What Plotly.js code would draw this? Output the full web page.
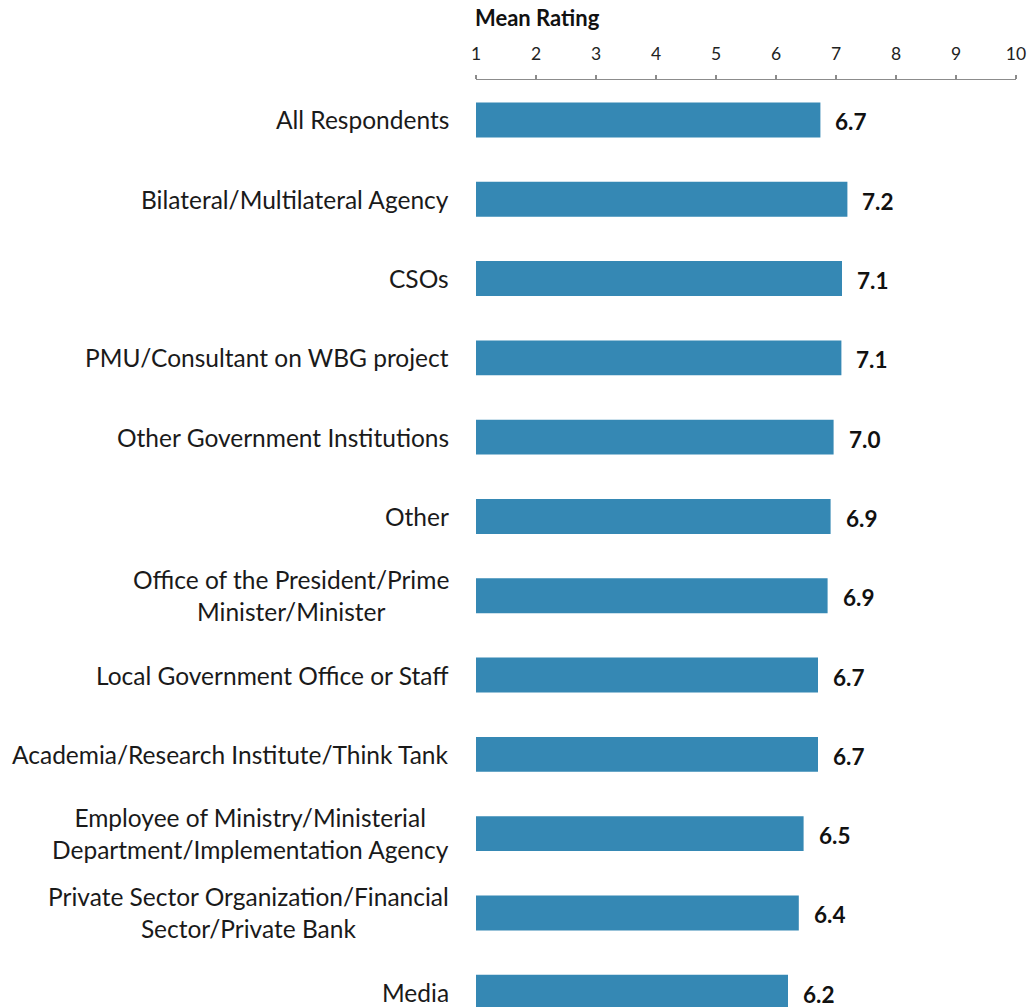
<!DOCTYPE html>
<html>
<head>
<meta charset="utf-8">
<script src="https://cdn.plot.ly/plotly-3.0.1.min.js"></script>
<style>
  html, body { margin: 0; padding: 0; background: #ffffff; }
  #chart { width: 1031px; height: 1007px; }
</style>
</head>
<body>
<div id="chart"></div>
<script>
const categories = [
  "All Respondents",
  "Bilateral/Multilateral Agency",
  "CSOs",
  "PMU/Consultant on WBG project",
  "Other Government Institutions",
  "Other",
  "Office of the President/Prime<br>Minister/Minister",
  "Local Government Office or Staff",
  "Academia/Research Institute/Think Tank",
  "Employee of Ministry/Ministerial<br>Department/Implementation Agency",
  "Private Sector Organization/Financial<br>Sector/Private Bank",
  "Media"
];
const meanRatings = [6.74, 7.19, 7.10, 7.09, 6.96, 6.91, 6.86, 6.70, 6.70, 6.46, 6.38, 6.20];
const tickValues = [1, 2, 3, 4, 5, 6, 7, 8, 9, 10];

const FONT = "Lato, 'Open Sans', sans-serif";

const trace = {
  type: "bar",
  orientation: "h",
  y: categories,
  x: meanRatings,
  width: 0.44,
  marker: { color: "#3588b4", line: { width: 0 } },
  hoverinfo: "skip"
};

const annotations = [];
categories.forEach(function (c, i) {
  annotations.push({
    xref: "paper", yref: "y",
    x: 0, y: c,
    xanchor: "right", yanchor: "middle",
    xshift: -25,
    align: "center",
    showarrow: false,
    text: c,
    font: { family: FONT, size: 24.5, color: "#1a1a1a" }
  });
  annotations.push({
    xref: "x", yref: "y",
    x: meanRatings[i], y: c,
    xanchor: "left", yanchor: "middle",
    xshift: 13, yshift: -2,
    showarrow: false,
    text: "<b>" + meanRatings[i].toFixed(1) + "</b>",
    font: { family: FONT, size: 22.5, color: "#111111" }
  });
});

const layout = {
  width: 1031,
  height: 1007,
  margin: { l: 476, r: 15, t: 80, b: 0, pad: 0 },
  paper_bgcolor: "#ffffff",
  plot_bgcolor: "#ffffff",
  showlegend: false,
  hovermode: false,
  title: {
    text: "<b>Mean Rating</b>",
    x: 475 / 1031, xanchor: "left", xref: "container",
    y: 1 - 18.5 / 1007, yanchor: "middle", yref: "container",
    font: { family: FONT, size: 22, color: "#111111" }
  },
  xaxis: {
    side: "top",
    range: [1, 10],
    tickmode: "array",
    tickvals: tickValues,
    ticktext: tickValues.map(String),
    ticks: "outside",
    ticklen: 4,
    tickwidth: 1.5,
    tickcolor: "#8c8c8c",
    showline: true,
    linecolor: "#8c8c8c",
    linewidth: 1.5,
    showgrid: false,
    zeroline: false,
    fixedrange: true,
    ticklabelstandoff: 8,
    tickfont: { family: FONT, size: 17.5, color: "#222222" }
  },
  yaxis: {
    type: "category",
    range: [11.186, -0.504],
    autorange: false,
    showticklabels: false,
    showline: false,
    showgrid: false,
    zeroline: false,
    ticks: "",
    fixedrange: true
  },
  annotations: annotations
};

Plotly.newPlot("chart", [trace], layout, { displayModeBar: false, staticPlot: true });
</script>
</body>
</html>
